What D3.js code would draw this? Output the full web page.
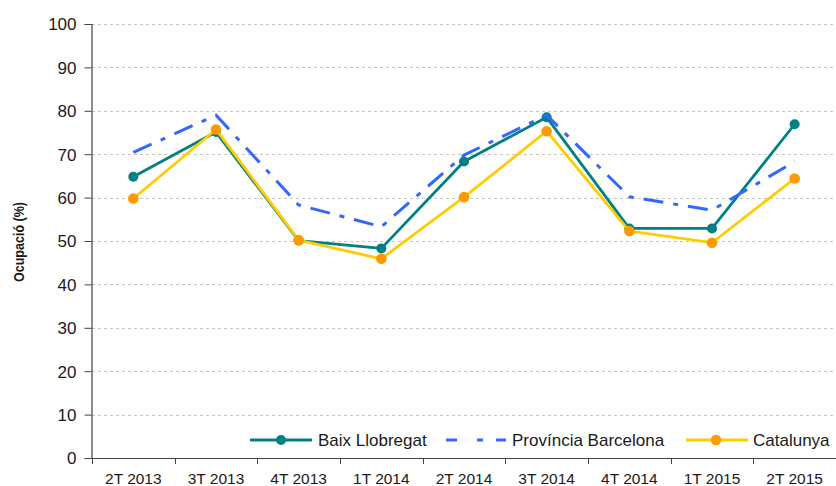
<!DOCTYPE html>
<html>
<head>
<meta charset="utf-8">
<script src="https://cdn.jsdelivr.net/npm/d3@7"></script>
<style>
  html, body { margin: 0; padding: 0; background: #fff; }
  svg { display: block; }
  text { font-family: "Liberation Sans", Arial, sans-serif; fill: #1a1a1a; }
</style>
</head>
<body>
<svg id="chart" width="836" height="486"></svg>
<script>
const categories = ["2T 2013", "3T 2013", "4T 2013", "1T 2014", "2T 2014", "3T 2014", "4T 2014", "1T 2015", "2T 2015"];
const baixLlobregat = [64.8, 75.1, 50.1, 48.3, 68.3, 78.5, 52.9, 52.9, 76.9];
const provinciaBarcelona = [70.4, 79.0, 58.3, 53.3, 69.8, 79.0, 60.2, 57.1, 68.3];
const catalunya = [59.8, 75.7, 50.2, 45.9, 60.1, 75.3, 52.3, 49.6, 64.4];
const yTicks = [0, 10, 20, 30, 40, 50, 60, 70, 80, 90, 100];
const seriesNames = ["Baix Llobregat", "Província Barcelona", "Catalunya"];

const svg = d3.select("#chart");
const mLeft = 92, mRight = 836, mTop = 24, mBottom = 458;

const x = d3.scaleBand().domain(categories).range([mLeft, mRight]).padding(0);
const y = d3.scaleLinear().domain([0, 100]).range([mBottom, mTop]);
const cx = c => x(c) + x.bandwidth() / 2;

// gridlines
svg.append("g").selectAll("line").data(yTicks.filter(d => d > 0)).join("line")
  .attr("x1", mLeft).attr("x2", mRight)
  .attr("y1", d => Math.round(y(d)) + 0.5).attr("y2", d => Math.round(y(d)) + 0.5)
  .attr("stroke", "#c4c4c4").attr("stroke-width", 1).attr("stroke-dasharray", "3,3");

// y axis
const yAxis = svg.append("g").attr("transform", `translate(${mLeft - 0.5},0)`)
  .call(d3.axisLeft(y).tickValues(yTicks).tickSize(7).tickPadding(8).tickFormat(d3.format("d")));
yAxis.select(".domain").attr("stroke", "#444").attr("stroke-width", 1.2);
yAxis.selectAll(".tick line").attr("stroke", "#444");
yAxis.selectAll(".tick text").style("font-size", "17px").style("font-family", "'Liberation Sans', Arial, sans-serif").attr("fill", "#1a1a1a").attr("dy", "0.35em");

// x axis: line + boundary ticks + labels
const xg = svg.append("g");
xg.append("line").attr("x1", mLeft - 7).attr("x2", mRight).attr("y1", mBottom + 0.5).attr("y2", mBottom + 0.5)
  .attr("stroke", "#444").attr("stroke-width", 1.2);
const boundaries = categories.map(c => x(c));
xg.selectAll("line.bt").data(boundaries).join("line").attr("class", "bt")
  .attr("x1", d => Math.round(d) + 0.5).attr("x2", d => Math.round(d) + 0.5)
  .attr("y1", mBottom).attr("y2", mBottom + 6).attr("stroke", "#444");
xg.selectAll("text").data(categories).join("text")
  .attr("x", d => cx(d)).attr("y", mBottom + 26)
  .attr("text-anchor", "middle").style("font-size", "15.5px").text(d => d);

// y title (condensed bold)
svg.append("text").attr("transform", `translate(23.5,242) rotate(-90)`)
  .attr("text-anchor", "middle")
  .attr("textLength", 80).attr("lengthAdjust", "spacingAndGlyphs")
  .style("font-weight", "bold").style("font-size", "15.5px")
  .text("Ocupació (%)");

const line = d3.line().x((d, i) => cx(categories[i])).y(d => y(d));

// series
const teal = "#008080", blue = "#3366FF", yellow = "#FFCC00", orange = "#FF9900";

svg.append("path").datum(baixLlobregat).attr("d", line).attr("fill", "none")
  .attr("stroke", teal).attr("stroke-width", 2.8).attr("stroke-linejoin", "round");
svg.append("g").selectAll("circle").data(baixLlobregat).join("circle")
  .attr("cx", (d, i) => cx(categories[i])).attr("cy", d => y(d)).attr("r", 5).attr("fill", teal);

svg.append("path").datum(provinciaBarcelona).attr("d", line).attr("fill", "none")
  .attr("stroke", blue).attr("stroke-width", 3).attr("stroke-dasharray", "20,10,5,10");

svg.append("path").datum(catalunya).attr("d", line).attr("fill", "none")
  .attr("stroke", yellow).attr("stroke-width", 2.8).attr("stroke-linejoin", "round");
svg.append("g").selectAll("circle").data(catalunya).join("circle")
  .attr("cx", (d, i) => cx(categories[i])).attr("cy", d => y(d)).attr("r", 5.3).attr("fill", orange);

// legend
const ly = 440;
const lg = svg.append("g");
lg.append("line").attr("x1", 250).attr("x2", 312).attr("y1", ly).attr("y2", ly).attr("stroke", teal).attr("stroke-width", 2.8);
lg.append("circle").attr("cx", 281).attr("cy", ly).attr("r", 5).attr("fill", teal);
lg.append("text").attr("x", 318).attr("y", ly + 6).style("font-size", "17px").text(seriesNames[0]);
lg.append("line").attr("x1", 446).attr("x2", 506).attr("y1", ly).attr("y2", ly).attr("stroke", blue).attr("stroke-width", 3)
  .attr("stroke-dasharray", "11,20,6,13,10,100");
lg.append("text").attr("x", 512).attr("y", ly + 6).style("font-size", "17px").text(seriesNames[1]);
lg.append("line").attr("x1", 686).attr("x2", 748).attr("y1", ly).attr("y2", ly).attr("stroke", yellow).attr("stroke-width", 2.8);
lg.append("circle").attr("cx", 716).attr("cy", ly).attr("r", 5.3).attr("fill", orange);
lg.append("text").attr("x", 753).attr("y", ly + 6).style("font-size", "17px").text(seriesNames[2]);
</script>
</body>
</html>
